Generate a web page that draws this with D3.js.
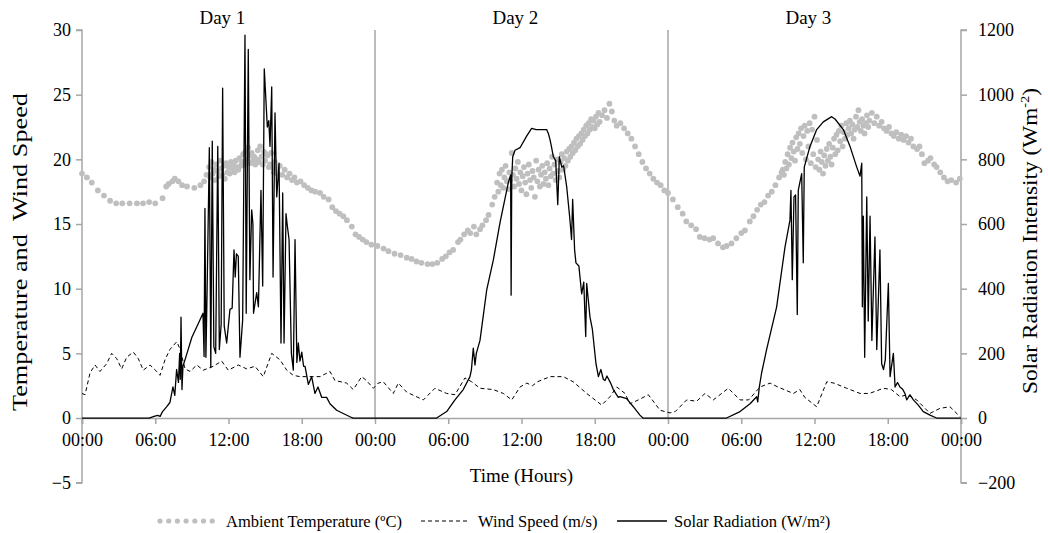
<!DOCTYPE html>
<html>
<head>
<meta charset="utf-8">
<script src="https://cdn.jsdelivr.net/npm/d3@7"></script>
<style>
  body { margin: 0; background: #fff; }
</style>
</head>
<body>
<svg id="chart" width="1048" height="533"></svg>
<script>
// ---- data (hours from start of Day 1, value) ----
const dayLabels = ["Day 1", "Day 2", "Day 3"];
const xTicks = [0, 6, 12, 18, 24, 30, 36, 42, 48, 54, 60, 66, 72];
const xTickLabels = ["00:00", "06:00", "12:00", "18:00", "00:00", "06:00", "12:00", "18:00", "00:00", "06:00", "12:00", "18:00", "00:00"];
const leftTicks = [-5, 0, 5, 10, 15, 20, 25, 30];
const rightTicks = [-200, 0, 200, 400, 600, 800, 1000, 1200];

// Ambient temperature (ºC)
const temperature = [
  [0.0,18.9],[0.4,18.6],[0.8,18.2],[1.3,17.6],[1.8,17.2],[2.3,16.8],[2.8,16.6],[3.3,16.6],[3.9,16.6],[4.5,16.6],
  [5.0,16.6],[5.5,16.7],[6.0,16.6],[6.6,17.0],[6.9,17.9],[7.1,18.1],[7.4,18.3],[7.6,18.5],[7.9,18.3],[8.2,18.0],
  [8.6,17.9],[9.2,17.8],[9.7,18.0],[10.0,18.3],[10.2,18.8],
  [10.4,19.4],[10.5,18.6],[10.6,19.8],[10.7,18.9],[10.8,19.2],[10.9,18.4],[11.0,19.6],[11.1,19.1],[11.2,18.7],[11.3,19.9],
  [11.4,19.3],[11.5,18.8],[11.6,19.5],[11.7,18.5],[11.8,19.7],[11.9,19.0],[12.0,19.4],[12.1,18.9],[12.2,19.8],[12.3,19.3],
  [12.4,19.6],[12.5,19.0],[12.6,19.9],[12.7,19.4],[12.8,19.2],[12.9,20.1],[13.0,19.5],[13.1,19.8],[13.2,20.4],[13.3,19.6],
  [13.4,20.6],[13.5,20.0],[13.6,20.9],[13.7,20.3],[13.8,19.7],[13.9,20.5],[14.0,19.9],[14.1,20.2],[14.2,19.6],[14.3,20.0],
  [14.4,20.7],[14.5,19.8],[14.6,21.0],[14.7,20.2],[14.8,19.6],[14.9,20.6],[15.0,19.9],[15.1,20.4],[15.2,20.3],[15.3,19.4],
  [15.4,19.6],[15.5,20.5],[15.6,19.4],[15.7,19.0],[15.8,19.8],[15.9,19.3],[16.0,18.9],[16.2,19.5],[16.4,18.8],[16.6,19.2],
  [16.8,18.6],[17.0,18.9],[17.2,18.4],[17.4,18.6],
  [17.6,18.2],[17.9,18.3],[18.2,18.0],[18.5,17.8],[18.8,17.6],[19.1,17.5],[19.5,17.4],[19.8,17.1],[20.2,16.9],[20.5,16.3],
  [20.8,16.0],[21.1,15.8],[21.4,15.6],[21.7,15.3],[22.1,14.8],[22.4,14.2],[22.7,14.0],[23.0,13.8],[23.3,13.6],[23.7,13.4],
  [24.2,13.3],[24.7,13.1],[25.1,12.9],[25.6,12.7],[26.1,12.6],[26.6,12.4],[27.0,12.3],[27.4,12.1],[27.8,12.0],[28.3,11.9],
  [28.7,11.9],[29.1,12.0],[29.5,12.3],[29.8,12.5],[30.1,12.8],[30.4,13.0],[30.8,13.6],[31.0,13.8],[31.3,14.2],[31.6,14.5],
  [31.8,14.3],[32.1,14.8],[32.3,14.2],[32.6,14.6],[32.8,14.9],[33.1,15.3],[33.3,15.7],[33.6,16.5],[33.8,17.1],
  [34.0,18.2],[34.1,17.5],[34.2,18.9],[34.3,18.0],[34.4,19.2],[34.5,17.8],[34.6,18.6],[34.7,19.5],[34.8,18.3],[34.9,17.7],
  [35.0,19.0],[35.1,18.4],[35.2,20.5],[35.3,18.8],[35.4,17.9],[35.5,19.3],[35.6,18.5],[35.7,19.8],[35.8,18.1],[35.9,19.0],
  [36.0,17.6],[36.1,18.7],[36.2,19.4],[36.3,18.2],[36.4,17.3],[36.5,18.9],[36.6,19.6],[36.7,18.4],[36.8,17.8],[36.9,19.1],
  [37.0,18.6],[37.1,17.1],[37.2,19.9],[37.3,18.3],[37.4,19.2],[37.5,17.9],[37.6,18.8],[37.7,19.5],[37.8,18.1],[37.9,19.0],
  [38.0,18.5],[38.1,19.7],[38.2,18.0],[38.3,19.3],[38.4,18.7],[38.5,20.2],[38.6,18.9],[38.7,19.6],[38.8,18.4],[38.9,20.0],
  [39.0,19.1],[39.1,18.6],[39.2,19.8],[39.3,20.4],[39.4,19.2],[39.5,20.1],[39.6,19.5],[39.7,20.6],[39.8,19.9],[39.9,20.8],
  [40.0,20.2],[40.1,21.0],[40.2,20.5],[40.3,21.3],[40.4,20.7],[40.5,21.6],[40.6,21.0],[40.7,21.8],[40.8,21.2],[40.9,22.0],
  [41.0,21.5],[41.1,22.3],[41.2,21.8],[41.3,22.6],[41.4,22.0],[41.5,22.8],[41.6,22.3],[41.7,23.1],[41.8,22.5],[41.9,23.0],
  [42.0,22.4],[42.1,23.3],[42.2,22.7],[42.3,23.6],[42.4,22.9],[42.6,23.4],[42.8,23.8],[43.0,23.2],[43.2,24.3],[43.4,23.7],
  [43.6,23.0],[43.8,22.6],[44.1,22.8],[44.4,22.4],[44.7,22.0],[45.0,21.6],[45.3,21.0],[45.6,20.4],[45.9,19.8],[46.2,19.3],
  [46.5,18.9],[46.8,18.5],[47.1,18.2],[47.4,18.0],[47.7,17.6],[48.0,17.4],[48.4,16.9],[48.8,16.3],[49.2,15.8],[49.5,15.2],
  [49.9,14.9],[50.3,14.6],[50.6,14.0],[51.0,13.9],[51.4,13.8],[51.7,13.9],[52.1,13.5],[52.5,13.2],[52.8,13.3],[53.2,13.5],
  [53.6,13.9],[54.0,14.3],[54.3,14.5],[54.7,15.2],[55.0,15.6],[55.3,16.1],[55.6,16.5],[55.9,16.7],[56.2,17.2],[56.5,17.5],
  [56.8,18.0],[57.1,18.6],[57.3,19.0],
  [57.4,19.2],[57.5,18.8],[57.6,19.8],[57.7,19.3],[57.8,20.4],[57.9,19.6],[58.0,20.9],[58.1,20.1],[58.2,21.3],[58.3,20.6],
  [58.4,19.9],[58.5,21.7],[58.6,20.8],[58.7,22.0],[58.8,21.2],[58.9,22.4],[59.0,20.5],[59.1,21.8],[59.2,22.6],[59.3,20.0],
  [59.4,22.2],[59.5,21.0],[59.6,22.8],[59.7,19.7],[59.8,22.3],[59.9,20.4],[60.0,23.3],[60.1,19.4],[60.2,21.5],[60.3,20.0],
  [60.4,19.2],[60.5,20.6],[60.6,19.8],[60.7,18.9],[60.8,20.3],[60.9,19.5],[61.0,20.8],[61.1,19.9],[61.2,21.2],[61.3,20.2],
  [61.4,19.6],[61.5,20.9],[61.6,21.6],[61.7,20.4],[61.8,21.9],[61.9,20.7],[62.0,22.2],[62.1,21.4],[62.2,22.6],[62.3,21.0],
  [62.4,22.1],[62.5,21.6],[62.6,22.8],[62.7,21.9],[62.8,22.4],[62.9,23.0],[63.0,22.0],[63.1,22.7],[63.2,21.6],[63.3,22.3],
  [63.4,23.3],[63.5,22.5],[63.6,23.8],[63.7,22.9],[63.8,22.2],[63.9,23.1],[64.0,22.6],[64.1,22.0],[64.2,22.8],[64.3,23.4],
  [64.4,22.5],[64.5,23.0],[64.7,23.6],[64.9,22.8],[65.1,23.3],[65.3,22.6],[65.5,22.9],[65.7,22.4],[65.9,22.2],[66.1,22.5],
  [66.3,22.0],[66.5,21.8],[66.7,22.1],[66.9,21.6],[67.1,21.9],[67.3,21.5],[67.5,21.8],[67.7,21.3],[67.9,21.6],[68.1,21.0],
  [68.4,20.8],[68.6,21.0],[68.8,20.4],[69.0,19.7],[69.3,19.9],[69.5,20.1],[69.8,19.6],[70.0,19.4],[70.3,19.0],[70.6,18.6],
  [70.9,18.3],[71.2,18.4],[71.6,18.2],[71.9,18.5]
];

// Wind speed (m/s)
const windSpeed = [
  [0,1.9],[0.25,1.8],[0.66,3.5],[1.07,4.1],[1.47,3.6],[2.02,4.2],[2.43,5.0],[2.84,4.6],[3.25,3.8],[3.66,4.7],
  [4.2,5.1],[4.61,4.6],[5.02,3.7],[5.57,4.1],[6.12,3.6],[6.39,3.3],[6.8,4.5],[7.2,5.3],[7.76,5.9],[8.0,5.4],
  [8.44,3.8],[8.85,3.6],[9.4,4.1],[9.93,3.7],[10.75,4.0],[11.44,4.4],[11.98,3.7],[12.8,4.1],[13.49,3.8],[14.17,4.0],
  [14.85,3.2],[15.54,5.0],[16.22,4.5],[16.77,3.7],[17.31,3.3],[17.86,3.2],[19.5,3.2],[20.31,3.6],[20.72,2.9],[21.68,2.7],
  [22.22,2.2],[22.91,3.2],[23.3,2.9],[23.86,2.3],[24.27,2.7],[24.68,2.8],[25.5,1.9],[25.91,2.7],[26.6,2.0],[27.96,1.4],
  [28.91,2.3],[29.87,1.9],[30.55,1.8],[31.37,3.1],[31.92,2.8],[32.6,2.3],[33.69,2.2],[34.51,1.9],[35.2,1.4],[35.88,2.4],
  [36.43,2.7],[36.9,2.5],[37.3,2.8],[38.34,3.2],[39.42,3.2],[40.24,2.8],[41.34,1.9],[42.57,1.0],[43.25,1.65],[43.8,2.4],
  [44.48,1.9],[44.89,1.1],[45.57,1.4],[46.39,1.8],[47.35,0.6],[48.16,0.4],[48.6,0.5],[49.53,1.4],[50.35,1.3],[51.03,1.9],
  [51.71,1.4],[52.94,2.3],[53.9,1.4],[54.6,1.4],[55.54,2.4],[56.36,2.7],[57.0,2.4],[58.27,1.9],[58.8,2.2],[59.2,1.6],
  [60.18,0.87],[61.0,2.8],[61.6,2.7],[62.64,2.3],[63.73,1.9],[64.5,1.9],[65.64,2.3],[66.3,2.2],[67.0,1.65],[67.6,1.8],
  [68.37,1.4],[69.46,0.36],[70.28,0.75],[71.1,0.87],[71.92,0.1]
];

// Solar radiation (W/m²)
const solarRadiation = [
  [0,0],[5.5,0],[5.9,5],[6.2,8],[6.4,5],[6.6,20],[6.96,36],[7.2,48],[7.45,96],[7.6,70],[7.75,150],[7.9,110],[8.0,200],
  [8.05,120],[8.11,312],[8.19,88],[8.27,160],[8.6,200],[9.0,250],[9.5,290],[9.91,324],[10.0,190],[10.07,648],[10.15,188],
  [10.25,400],[10.43,836],[10.55,156],[10.67,856],[10.8,220],[10.95,200],[11.12,840],[11.25,212],[11.4,290],[11.52,1020],
  [11.65,284],[11.85,232],[12.12,336],[12.3,340],[12.45,520],[12.55,436],[12.65,508],[12.8,500],[12.94,188],[13.16,304],
  [13.35,1184],[13.45,324],[13.62,1140],[13.75,428],[13.9,644],[14.0,600],[14.05,324],[14.31,388],[14.45,344],[14.66,704],
  [14.8,408],[14.93,1080],[15.18,900],[15.3,920],[15.4,840],[15.54,1024],[15.65,436],[15.81,944],[15.95,684],[16.14,788],
  [16.3,232],[16.44,696],[16.55,232],[16.71,632],[16.8,600],[16.96,552],[17.15,200],[17.31,148],[17.45,552],[17.6,172],
  [17.72,232],[17.85,176],[18.0,204],[18.15,160],[18.27,160],[18.54,104],[18.81,128],[19.08,76],[19.33,96],[19.63,64],
  [20.04,64],[20.31,44],[20.86,24],[21.4,14],[21.95,4],[22.2,0],
  [29.05,0],[29.87,20],[30.55,56],[31.23,88],[31.78,128],[31.9,150],[32.05,216],[32.19,164],[32.3,200],[32.6,240],
  [33.15,396],[33.69,488],[34.24,604],[34.92,728],[35.11,752],[35.15,380],[35.2,740],[35.28,808],[35.47,828],[35.88,836],
  [36.42,872],[36.83,896],[37.2,892],[37.52,892],[38.06,892],[38.2,880],[38.34,860],[38.45,840],[38.61,808],[38.8,796],
  [38.97,660],[39.1,808],[39.3,776],[39.45,780],[39.7,716],[39.95,620],[40.1,552],[40.19,676],[40.35,520],[40.46,480],
  [40.7,470],[40.93,384],[41.1,420],[41.26,252],[41.34,416],[41.61,312],[41.8,276],[42.1,168],[42.3,128],[42.5,150],
  [42.7,120],[42.84,116],[43.0,130],[43.3,108],[43.52,88],[43.93,64],[44.07,66],[44.61,60],[45.16,35],[45.7,9],[45.95,0],
  [52.8,0],[53.9,20],[54.72,44],[55.26,66],[55.35,50],[55.48,96],[55.67,140],[56.08,212],[56.9,344],[57.58,528],
  [57.99,612],[58.07,704],[58.18,428],[58.32,684],[58.45,690],[58.59,320],[58.67,704],[58.95,756],[59.08,480],[59.16,776],
  [59.63,840],[60.18,892],[60.72,916],[61.41,932],[61.7,924],[62.36,892],[62.91,840],[63.46,776],[63.73,748],[63.87,788],
  [63.92,344],[64.0,624],[64.11,188],[64.28,684],[64.4,300],[64.55,624],[64.7,240],[64.95,560],[65.1,212],[65.36,520],
  [65.5,168],[65.65,150],[65.8,180],[66.05,416],[66.19,128],[66.46,200],[66.6,96],[66.8,110],[67.0,96],[67.2,90],
  [67.41,76],[67.55,56],[67.82,72],[68.1,56],[68.5,40],[68.91,20],[69.46,9],[70.0,0],[72,0]
];

// ---- layout ----
const serif = "'Liberation Serif', 'DejaVu Serif', serif";
const svg = d3.select("#chart").attr("font-family", serif);
const plot = {left: 82, right: 961, top: 30, bottom: 482.7};
const axisGrey = "#a6a6a6";

const x = d3.scaleLinear().domain([0, 72]).range([plot.left, plot.right]);
const yL = d3.scaleLinear().domain([-5, 30]).range([plot.bottom, plot.top]);
const yR = d3.scaleLinear().domain([-200, 1200]).range([plot.bottom, plot.top]);

// day separators
svg.append("g").selectAll("line")
    .data([24, 48])
    .join("line")
    .attr("x1", d => x(d)).attr("x2", d => x(d))
    .attr("y1", plot.top).attr("y2", yL(0))
    .attr("stroke", axisGrey).attr("stroke-width", 1.5);

// day labels
svg.append("g").selectAll("text")
    .data(dayLabels)
    .join("text")
    .attr("x", (d, i) => x(i * 24 + 11.5))
    .attr("y", 24)
    .attr("text-anchor", "middle")
    .attr("font-size", 19)
    .text(d => d);

// left axis
const gL = svg.append("g")
    .attr("transform", `translate(${plot.left},0)`)
    .call(d3.axisLeft(yL).tickValues(leftTicks).tickSize(6).tickPadding(5));
// right axis
const gR = svg.append("g")
    .attr("transform", `translate(${plot.right},0)`)
    .call(d3.axisRight(yR).tickValues(rightTicks).tickFormat(d3.format("d")).tickSize(6).tickPadding(11));
// x axis at zero
const gX = svg.append("g")
    .attr("transform", `translate(0,${yL(0)})`)
    .call(d3.axisBottom(x).tickValues(xTicks).tickFormat((d, i) => xTickLabels[i]).tickSize(6).tickPadding(9));

[gL, gR, gX].forEach(g => {
    g.attr("font-family", serif).attr("font-size", 18);
    g.select(".domain").attr("stroke", axisGrey).attr("stroke-width", 1.5);
    g.selectAll(".tick line").attr("stroke", axisGrey).attr("stroke-width", 1.5);
    g.selectAll(".tick text").attr("fill", "#000");
});
gL.select(".domain").attr("d", `M-6,${plot.bottom}H0V${plot.top}H-6`);
gR.select(".domain").attr("d", `M6,${plot.bottom}H0V${plot.top}H6`);

// temperature dots
svg.append("g").selectAll("circle")
    .data(temperature)
    .join("circle")
    .attr("cx", d => x(d[0]))
    .attr("cy", d => yL(d[1]))
    .attr("r", 2.9)
    .attr("fill", "#bfbfbf");

// wind speed (dashed)
svg.append("path")
    .datum(windSpeed)
    .attr("fill", "none")
    .attr("stroke", "#000")
    .attr("stroke-width", 1)
    .attr("stroke-dasharray", "4,3")
    .attr("d", d3.line().x(d => x(d[0])).y(d => yL(d[1])));

// solar radiation (solid, right axis)
svg.append("path")
    .datum(solarRadiation)
    .attr("fill", "none")
    .attr("stroke", "#000")
    .attr("stroke-width", 1.3)
    .attr("stroke-linejoin", "round")
    .attr("d", d3.line().x(d => x(d[0])).y(d => yR(d[1])));

// axis titles
svg.append("text")
    .attr("transform", `translate(27,252) rotate(-90)`)
    .attr("text-anchor", "middle")
    .attr("font-size", 21)
    .attr("textLength", 318)
    .attr("lengthAdjust", "spacingAndGlyphs")
    .text("Temperature and \u00a0Wind Speed");

const rt = svg.append("text")
    .attr("transform", `translate(1037,241) rotate(-90)`)
    .attr("text-anchor", "middle")
    .attr("font-size", 21)
    .attr("textLength", 306)
    .attr("lengthAdjust", "spacingAndGlyphs");
rt.append("tspan").text("Solar Radiation Intensity (Wm");
rt.append("tspan").attr("dy", -8).attr("font-size", 13).text("-2");
rt.append("tspan").attr("dy", 8).text(")");

svg.append("text")
    .attr("x", (plot.left + plot.right) / 2)
    .attr("y", 482)
    .attr("text-anchor", "middle")
    .attr("font-size", 19)
    .text("Time (Hours)");

// legend
const legendY = 521;
const lg = svg.append("g").attr("font-size", 16.5);
lg.selectAll("circle")
    .data(d3.range(7))
    .join("circle")
    .attr("cx", i => 160 + i * 8.7)
    .attr("cy", legendY)
    .attr("r", 2.6)
    .attr("fill", "#bfbfbf");
lg.append("text").attr("x", 226).attr("y", legendY + 6).text("Ambient Temperature (ºC)");
lg.append("line").attr("x1", 421).attr("x2", 470).attr("y1", legendY).attr("y2", legendY)
    .attr("stroke", "#000").attr("stroke-dasharray", "4,3");
lg.append("text").attr("x", 478).attr("y", legendY + 6).text("Wind Speed (m/s)");
lg.append("line").attr("x1", 617).attr("x2", 667).attr("y1", legendY).attr("y2", legendY)
    .attr("stroke", "#000").attr("stroke-width", 1.3);
lg.append("text").attr("x", 674).attr("y", legendY + 6).text("Solar Radiation (W/m²)");
</script>
</body>
</html>
